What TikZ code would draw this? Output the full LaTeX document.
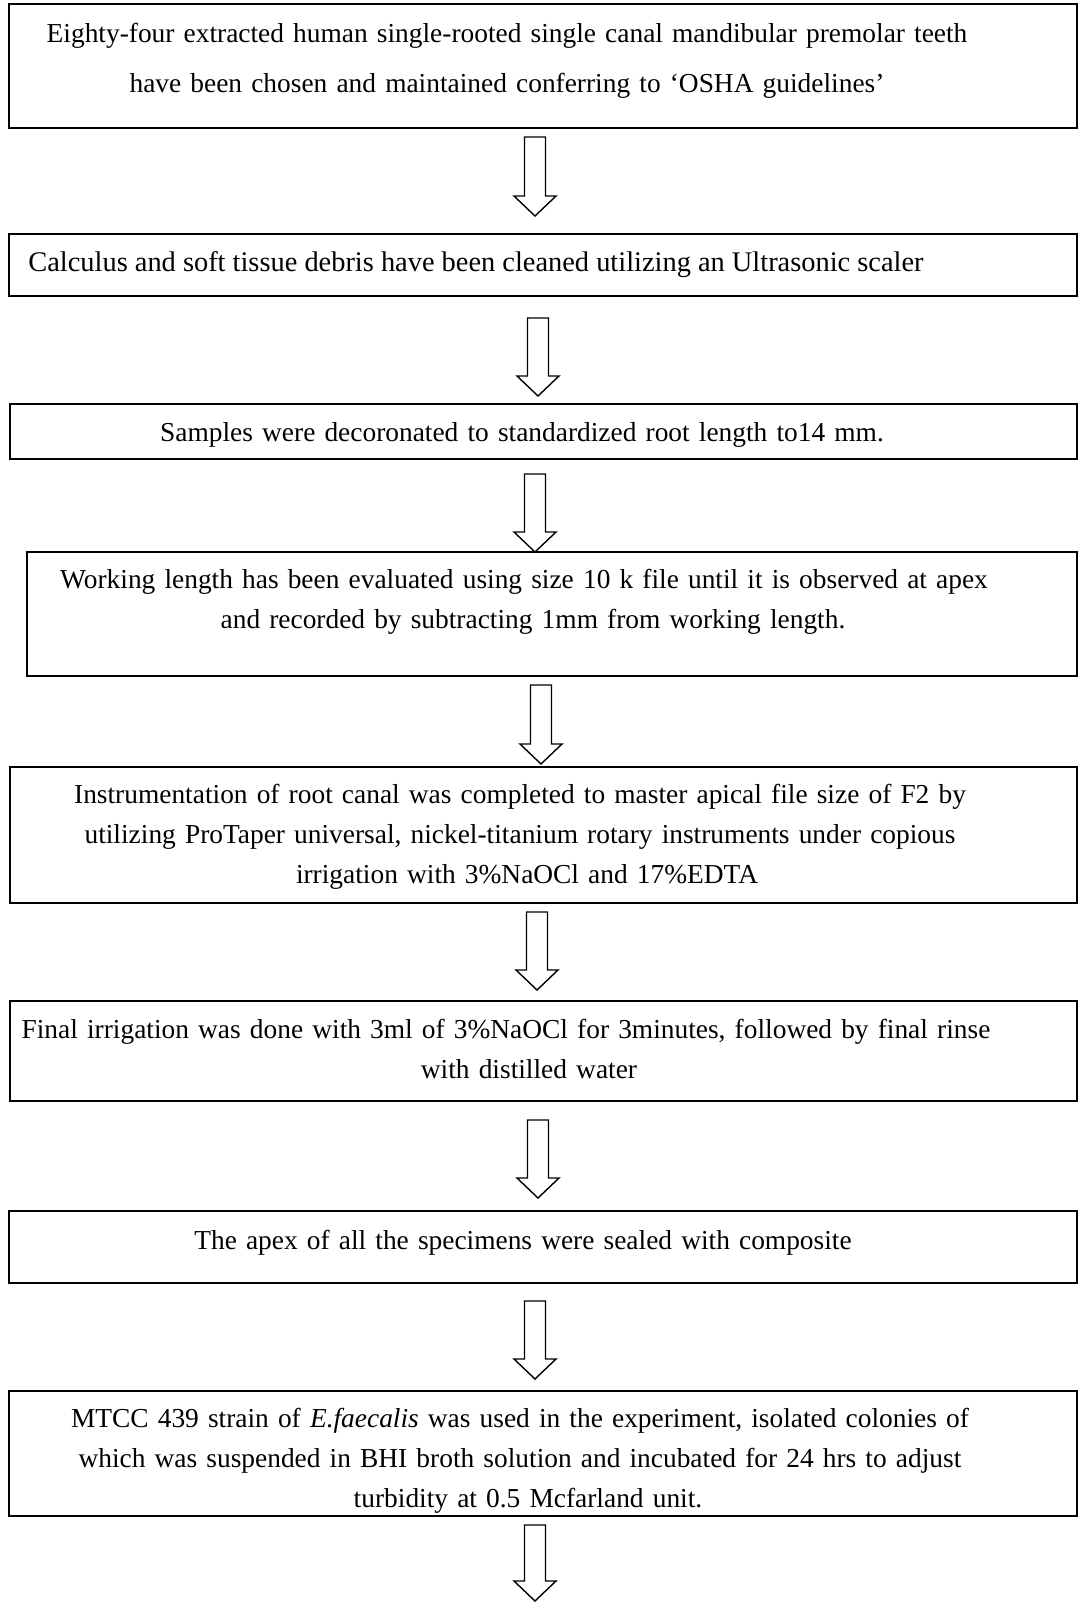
\documentclass[tikz,border=0pt]{standalone}
\usepackage{fontspec}
\setmainfont{Liberation Serif}

\tikzset{
	stepbox/.style={draw, line width=0.9pt},
	steptext/.style={anchor=base, inner sep=0pt, text width=530pt, align=center, font=\fontsize{13.7}{20}\selectfont},
	blockarrow/.style={draw, line width=0.7pt, fill=white}
}

\begin{document}
\begin{tikzpicture}[x=0.5pt,y=-0.5pt]

	\useasboundingbox (0,0) rectangle (1078,1602);

	% boxes
	\draw [stepbox] (9,4) rectangle (1077,128);
	\draw [stepbox] (9,234) rectangle (1077,296);
	\draw [stepbox] (10,404) rectangle (1077,459);
	\draw [stepbox] (27,552) rectangle (1077,676);
	\draw [stepbox] (10,767) rectangle (1077,903);
	\draw [stepbox] (10,1001) rectangle (1077,1101);
	\draw [stepbox] (9,1211) rectangle (1077,1283);
	\draw [stepbox] (9,1391) rectangle (1077,1516);

	% texts
	\node [steptext, font=\fontsize{13.7}{25}\selectfont] (t1) at (507,42) {Eighty-four extracted human single-rooted single canal mandibular premolar teeth\\have been chosen and maintained conferring to ‘OSHA guidelines’};
	\node [steptext, anchor=base west, text width=, font=\fontsize{14.2}{20}\selectfont] (t2) at (28,271) {Calculus and soft tissue debris have been cleaned utilizing an Ultrasonic scaler};
	\node [steptext] (t3) at (522,441) {Samples were decoronated to standardized root length to14 mm.};
	\node [steptext] (t4) at (524,588) {Working length has been evaluated using size 10 k file until it is observed at apex\\\hspace*{9pt}and recorded by subtracting 1mm from working length.};
	\node [steptext] (t5) at (520,803) {Instrumentation of root canal was completed to master apical file size of F2 by\\utilizing ProTaper universal, nickel-titanium rotary instruments under copious\\\hspace*{7pt}irrigation with 3\%NaOCl and 17\%EDTA};
	\node [steptext] (t6) at (506,1038) {Final irrigation was done with 3ml of 3\%NaOCl for 3minutes, followed by final rinse\\\hspace*{23pt}with distilled water};
	\node [steptext] (t7) at (523,1249) {The apex of all the specimens were sealed with composite};
	\node [steptext] (t8) at (520,1427) {MTCC 439 strain of \textit{E.faecalis} was used in the experiment, isolated colonies of\\which was suspended in BHI broth solution and incubated for 24 hrs to adjust\\\hspace*{8pt}turbidity at 0.5 Mcfarland unit.};

	% arrows
	\foreach \x/\top/\tip in {535/137/216, 538/318/396, 535/474/552, 541/685/764, 537/912/990, 538/1120/1198, 535/1301/1379, 535/1525/1601}
		\draw [blockarrow] ({\x-10.5},\top) -- ({\x+10.5},\top) -- ({\x+10.5},{\tip-20}) -- ({\x+21},{\tip-20}) -- (\x,\tip) -- ({\x-21},{\tip-20}) -- ({\x-10.5},{\tip-20}) -- cycle;

\end{tikzpicture}
\end{document}
